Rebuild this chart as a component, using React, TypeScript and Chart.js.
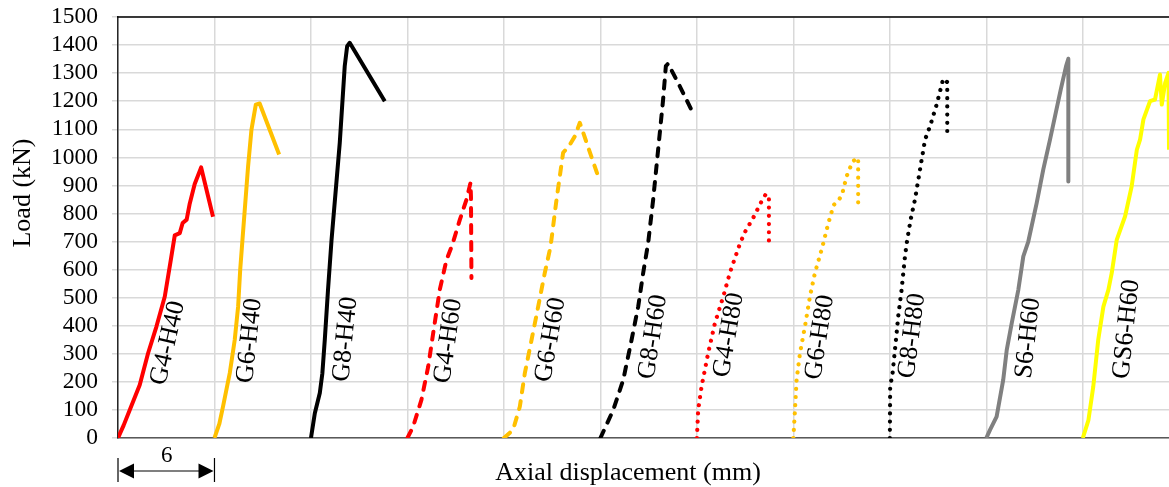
import React, { useEffect, useRef } from 'react';
import { Chart, registerables } from 'chart.js';

Chart.register(...registerables);

const FONT = '"Liberation Serif", "Times New Roman", serif';

// Axis settings (mm, kN)
const X_MAX = 65.36;
const X_STEP = 6;
const Y_MAX = 1500;
const Y_STEP = 100;

// ---- Series data: axial displacement (mm, each shifted by 6 mm) and load (kN) ----
const g4h40X = [0, 0.35, 0.73, 1.35, 1.87, 2.39, 2.91, 3.3, 3.53, 3.84, 4.02, 4.27, 4.46, 4.77, 5.17, 5.91];
const g4h40Y = [0, 45, 100, 189, 302, 397, 504, 640, 722, 730, 766, 778, 835, 905, 964, 788];

const g6h40X = [6, 6.3, 6.53, 6.95, 7.26, 7.47, 7.6, 7.74, 8.09, 8.3, 8.57, 8.81, 10.02];
const g6h40Y = [0, 50, 112, 231, 350, 468, 600, 706, 968, 1099, 1188, 1192, 1010];

const g8h40X = [12, 12.24, 12.55, 12.71, 12.86, 13.06, 13.28, 13.79, 14.1, 14.25, 14.41, 16.59];
const g8h40Y = [0, 88, 160, 231, 350, 528, 706, 1051, 1325, 1396, 1408, 1200];

const g4h60X = [18, 18.35, 18.87, 19.29, 19.6, 20.01, 20.43, 20.8, 21.26, 21.67, 21.92, 21.95, 21.98];
const g4h60Y = [0, 40, 136, 254, 373, 528, 635, 690, 778, 849, 909, 860, 570];

const g6h60X = [24, 24.57, 24.99, 25.3, 25.72, 26.13, 26.54, 26.9, 27.27, 27.68, 28.1, 28.41, 28.72, 29.86];
const g6h60Y = [0, 29, 112, 231, 350, 468, 588, 682, 849, 1016, 1045, 1075, 1123, 932];

const g8h60X = [30, 30.8, 31.42, 31.94, 32.35, 32.66, 32.97, 33.28, 33.59, 33.9, 34.07, 34.21, 34.94, 35.81];
const g8h60Y = [0, 100, 207, 350, 468, 588, 695, 849, 1027, 1206, 1325, 1334, 1253, 1152];

const g4h80X = [36, 36.08, 36.29, 36.7, 37.12, 37.64, 38.05, 38.6, 38.95, 39.5, 40.02, 40.29, 40.48, 40.48];
const g4h80Y = [0, 100, 183, 302, 409, 504, 588, 680, 730, 784, 843, 869, 861, 683];

const g6h80X = [42, 42.1, 42.2, 42.41, 42.72, 43.03, 43.34, 43.8, 44.15, 44.5, 44.85, 45.06, 45.31, 45.69, 46.03, 46.03];
const g6h80Y = [0, 100, 207, 302, 397, 504, 588, 680, 760, 830, 849, 875, 932, 986, 998, 819];

const g8h80X = [48, 48.02, 48.17, 48.38, 48.52, 48.73, 48.94, 49.08, 49.3, 49.56, 49.77, 49.98, 50.19, 50.5, 50.91, 51.32, 51.57, 51.57];
const g8h80Y = [0, 183, 231, 350, 433, 528, 647, 706, 780, 849, 920, 992, 1063, 1111, 1188, 1280, 1268, 1089];

const s6h60X = [54, 54.23, 54.64, 55.05, 55.27, 55.58, 55.99, 56.3, 56.61, 57.13, 57.54, 57.96, 58.27, 58.63, 58.96, 59.1, 59.1];
const s6h60Y = [0, 29, 76, 207, 314, 409, 528, 647, 700, 837, 956, 1063, 1146, 1242, 1325, 1351, 914];

const gs6h60X = [60, 60.35, 60.65, 60.96, 61.28, 61.59, 61.8, 62.11, 62.63, 63.04, 63.36, 63.56, 63.77, 64.18, 64.49, 64.8, 64.91, 65.12, 65.33, 65.36];
const gs6h60Y = [0, 64, 183, 350, 468, 528, 588, 706, 790, 897, 1027, 1063, 1135, 1200, 1206, 1295, 1188, 1265, 1301, 1027];

// Series names (also used as in-plot labels)
const seriesNames = ['G4-H40', 'G6-H40', 'G8-H40', 'G4-H60', 'G6-H60', 'G8-H60', 'G4-H80', 'G6-H80', 'G8-H80', 'S6-H60', 'GS6-H60'];
const seriesX = [g4h40X, g6h40X, g8h40X, g4h60X, g6h60X, g8h60X, g4h80X, g6h80X, g8h80X, s6h60X, gs6h60X];
const seriesY = [g4h40Y, g6h40Y, g8h40Y, g4h60Y, g6h60Y, g8h60Y, g4h80Y, g6h80Y, g8h80Y, s6h60Y, gs6h60Y];

// In-plot label anchors (data coordinates) and rotation
const labelX = [3.11, 8.19, 14.15, 20.55, 26.9, 33.28, 37.99, 43.65, 49.39, 56.61, 62.73];
const labelY = [338, 347, 352, 346, 350, 360, 367, 359, 364, 356, 388];
const labelAngle = [-77, -84, -84.4, -82, -80, -81.4, -80, -81.3, -82.7, -84, -84];

// Styles
const RED = '#FF0000';
const ORANGE = '#FFC000';
const BLACK = '#000000';
const GRAY = '#808080';
const YELLOW = '#FFFF00';
const seriesColors = [RED, ORANGE, BLACK, RED, ORANGE, BLACK, RED, ORANGE, BLACK, GRAY, YELLOW];
const seriesStyle = ['solid', 'solid', 'solid', 'dash', 'dash', 'dash', 'dot', 'dot', 'dot', 'solid', 'solid'];

// Dimension annotation
const DIM_FROM = 0;
const DIM_TO = 6;
const DIM_TEXT = '6';

const annotPlugin = {
  id: 'annot',
  afterDraw(chart: any) {
    const { ctx, chartArea, scales } = chart;
    const xs = scales.x;
    const ys = scales.y;
    ctx.save();
    // top border
    ctx.strokeStyle = '#000';
    ctx.lineWidth = 1.5;
    ctx.beginPath();
    ctx.moveTo(chartArea.left - 0.75, chartArea.top);
    ctx.lineTo(chartArea.right, chartArea.top);
    ctx.stroke();

    // series labels
    ctx.fillStyle = '#000';
    ctx.font = `26px ${FONT}`;
    ctx.textAlign = 'center';
    ctx.textBaseline = 'middle';
    seriesNames.forEach((name, i) => {
      ctx.save();
      ctx.translate(xs.getPixelForValue(labelX[i]), ys.getPixelForValue(labelY[i]));
      ctx.rotate((labelAngle[i] * Math.PI) / 180);
      ctx.fillText(name, 0, 0);
      ctx.restore();
    });

    // y-axis title
    ctx.save();
    ctx.font = `26px ${FONT}`;
    ctx.translate(23, 193);
    ctx.rotate(-Math.PI / 2);
    ctx.textAlign = 'center';
    ctx.textBaseline = 'middle';
    ctx.fillText('Load (kN)', 0, 0);
    ctx.restore();

    // x-axis title
    ctx.font = `26px ${FONT}`;
    ctx.textAlign = 'center';
    ctx.textBaseline = 'alphabetic';
    ctx.fillText('Axial displacement (mm)', 628, 480);

    // dimension arrow
    const xa = xs.getPixelForValue(DIM_FROM);
    const xb = xs.getPixelForValue(DIM_TO);
    const yl = 471;
    ctx.strokeStyle = '#000';
    ctx.lineWidth = 1.2;
    ctx.beginPath();
    ctx.moveTo(xa, 458);
    ctx.lineTo(xa, 482);
    ctx.moveTo(xb, 458);
    ctx.lineTo(xb, 482);
    ctx.moveTo(xa + 14, yl);
    ctx.lineTo(xb - 14, yl);
    ctx.stroke();
    ctx.fillStyle = '#000';
    ctx.beginPath();
    ctx.moveTo(xa + 1, yl);
    ctx.lineTo(xa + 16, yl - 7.5);
    ctx.lineTo(xa + 16, yl + 7.5);
    ctx.closePath();
    ctx.fill();
    ctx.beginPath();
    ctx.moveTo(xb - 1, yl);
    ctx.lineTo(xb - 16, yl - 7.5);
    ctx.lineTo(xb - 16, yl + 7.5);
    ctx.closePath();
    ctx.fill();
    ctx.font = `23px ${FONT}`;
    ctx.textAlign = 'center';
    ctx.textBaseline = 'alphabetic';
    ctx.fillText(DIM_TEXT, (xa + xb) / 2 + 0.5, 462);

    ctx.restore();
  },
};

export default function App() {
  const ref = useRef<HTMLCanvasElement>(null);

  useEffect(() => {
    const datasets = seriesNames.map((name, i) => {
      const style = seriesStyle[i];
      return {
        label: name,
        data: seriesX[i].map((x, j) => ({ x, y: seriesY[i][j] })),
        borderColor: seriesColors[i],
        backgroundColor: seriesColors[i],
        borderWidth: style === 'dot' ? 4.2 : 4,
        borderDash: style === 'dash' ? [8, 9] : style === 'dot' ? [0.01, 8.2] : [],
        borderCapStyle: style === 'solid' ? 'butt' : 'round',
        borderJoinStyle: 'round',
        pointRadius: 0,
        pointHoverRadius: 0,
        tension: 0,
        fill: false,
      };
    });

    const chart = new Chart(ref.current as HTMLCanvasElement, {
      type: 'line',
      data: { datasets } as any,
      options: {
        animation: false,
        responsive: false,
        devicePixelRatio: 1,
        layout: { padding: { left: 0, right: 0, top: 17, bottom: 0 } },
        plugins: {
          legend: { display: false },
          tooltip: { enabled: false },
        },
        scales: {
          x: {
            type: 'linear',
            min: 0,
            max: X_MAX,
            ticks: { display: false, stepSize: X_STEP, includeBounds: false, autoSkip: false, maxTicksLimit: 100 },
            grid: { color: '#d9d9d9', lineWidth: 1.5, drawTicks: false },
            border: { color: '#595959', width: 1.5 },
            afterFit: (s: any) => {
              s.height = 49;
              s.paddingLeft = 0;
              s.paddingRight = 0;
            },
          },
          y: {
            type: 'linear',
            min: 0,
            max: Y_MAX,
            ticks: {
              stepSize: Y_STEP,
              autoSkip: false,
              maxTicksLimit: 100,
              color: '#000',
              padding: 14,
              font: { family: FONT, size: 23.5 },
              callback: (v: any) => String(v),
            },
            grid: { color: '#d9d9d9', lineWidth: 1.5, tickLength: 6, tickColor: '#d9d9d9' },
            border: { color: '#262626', width: 1.5 },
            afterFit: (s: any) => {
              s.width = 118;
              s.paddingTop = 0;
              s.paddingBottom = 0;
            },
          },
        },
      } as any,
      plugins: [annotPlugin],
    });
    return () => chart.destroy();
  }, []);

  return (
    <div style={{ position: 'fixed', left: 0, top: 0, width: 1169, height: 487, background: '#fff' }}>
      <canvas ref={ref} width={1169} height={487} style={{ width: 1169, height: 487, display: 'block' }} />
    </div>
  );
}
